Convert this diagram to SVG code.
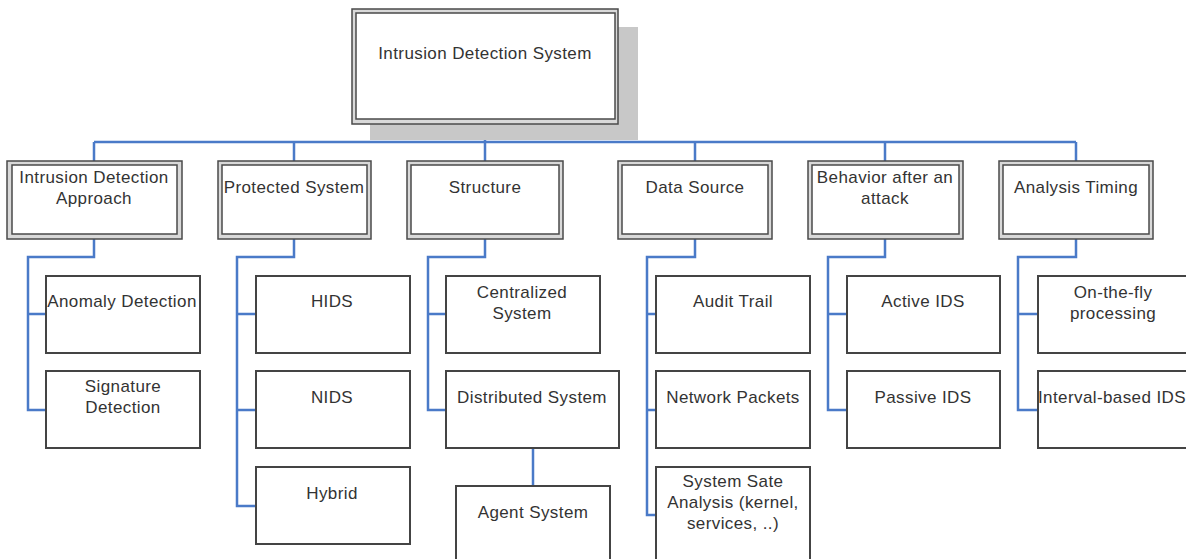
<svg xmlns="http://www.w3.org/2000/svg" width="1186" height="559" viewBox="0 0 1186 559">
<style>
.t{font-family:"Liberation Sans",Arial,sans-serif;font-size:17px;letter-spacing:0.4px;fill:#333;text-anchor:middle}
.o{fill:#d9d9d9;stroke:#4a4a4a;stroke-width:1.5}
.i{fill:#fff;stroke:#4a4a4a;stroke-width:1.5}
.b{fill:#fff;stroke:#444;stroke-width:2}
.c{fill:none;stroke:#4a7ac8;stroke-width:2.5}
</style>
<rect width="1186" height="559" fill="#fff"/>
<g id="connectors">
<path class="c" d="M485 124V142M94 142H1076M94 142V161M294 142V161M485 142V161M695 142V161M885 142V161M1076 142V161"/>
<path class="c" d="M94 239V257H28V410H46M28 314H46"/>
<path class="c" d="M294 239V257H237V506H256M237 314H256M237 410H256"/>
<path class="c" d="M485 239V257H428V410H446M428 314H446"/>
<path class="c" d="M533 448V486"/>
<path class="c" d="M695 239V257H647V515H656M647 314H656M647 410H656"/>
<path class="c" d="M885 239V257H828V410H847M828 314H847"/>
<path class="c" d="M1076 239V257H1018V410H1038M1018 314H1038"/>
</g>
<g id="root">
<rect x="370" y="27" width="268" height="113" fill="#c8c8c8"/>
<rect class="o" x="352" y="9" width="266" height="115"/>
<rect class="i" x="356" y="13" width="259" height="106"/>
<text class="t" x="485" y="59">Intrusion Detection System</text>
</g>
<g id="approach">
<rect class="o" x="7" y="161" width="175" height="78"/>
<rect class="i" x="12" y="165" width="165" height="69"/>
<text class="t" x="94" y="183">Intrusion Detection</text>
<text class="t" x="94" y="204">Approach</text>
</g>
<g id="protected">
<rect class="o" x="218" y="161" width="153" height="78"/>
<rect class="i" x="222" y="165" width="145" height="69"/>
<text class="t" x="294" y="193">Protected System</text>
</g>
<g id="structure">
<rect class="o" x="407" y="161" width="156" height="78"/>
<rect class="i" x="411" y="165" width="148" height="69"/>
<text class="t" x="485" y="193">Structure</text>
</g>
<g id="datasource">
<rect class="o" x="618" y="161" width="154" height="78"/>
<rect class="i" x="622" y="165" width="146" height="69"/>
<text class="t" x="695" y="193">Data Source</text>
</g>
<g id="behavior">
<rect class="o" x="808" y="161" width="155" height="78"/>
<rect class="i" x="812" y="165" width="147" height="69"/>
<text class="t" x="885" y="183">Behavior after an</text>
<text class="t" x="885" y="204">attack</text>
</g>
<g id="timing">
<rect class="o" x="999" y="161" width="154" height="78"/>
<rect class="i" x="1003" y="165" width="146" height="69"/>
<text class="t" x="1076" y="193">Analysis Timing</text>
</g>
<g id="anomaly"><rect class="b" x="46" y="276" width="154" height="77"/><text class="t" x="122" y="307">Anomaly Detection</text></g>
<g id="signature"><rect class="b" x="46" y="371" width="154" height="77"/><text class="t" x="123" y="392">Signature</text><text class="t" x="123" y="413">Detection</text></g>
<g id="hids"><rect class="b" x="256" y="276" width="154" height="77"/><text class="t" x="332" y="307">HIDS</text></g>
<g id="nids"><rect class="b" x="256" y="371" width="154" height="77"/><text class="t" x="332" y="403">NIDS</text></g>
<g id="hybrid"><rect class="b" x="256" y="467" width="154" height="77"/><text class="t" x="332" y="499">Hybrid</text></g>
<g id="centralized"><rect class="b" x="446" y="276" width="154" height="77"/><text class="t" x="522" y="298">Centralized</text><text class="t" x="522" y="319">System</text></g>
<g id="distributed"><rect class="b" x="446" y="371" width="173" height="77"/><text class="t" x="532" y="403">Distributed System</text></g>
<g id="agent"><rect class="b" x="456" y="486" width="154" height="80"/><text class="t" x="533" y="518">Agent System</text></g>
<g id="audit"><rect class="b" x="656" y="276" width="154" height="77"/><text class="t" x="733" y="307">Audit Trail</text></g>
<g id="packets"><rect class="b" x="656" y="371" width="154" height="77"/><text class="t" x="733" y="403">Network Packets</text></g>
<g id="systemstate"><rect class="b" x="656" y="467" width="154" height="100"/><text class="t" x="733" y="487">System Sate</text><text class="t" x="733" y="508">Analysis (kernel,</text><text class="t" x="733" y="529">services, ..)</text></g>
<g id="active"><rect class="b" x="847" y="276" width="153" height="77"/><text class="t" x="923" y="307">Active IDS</text></g>
<g id="passive"><rect class="b" x="847" y="371" width="153" height="77"/><text class="t" x="923" y="403">Passive IDS</text></g>
<g id="onthefly"><rect class="b" x="1038" y="276" width="160" height="77"/><text class="t" x="1113" y="298">On-the-fly</text><text class="t" x="1113" y="319">processing</text></g>
<g id="interval"><rect class="b" x="1038" y="371" width="160" height="77"/><text class="t" x="1112" y="403">Interval-based IDS</text></g>
</svg>
